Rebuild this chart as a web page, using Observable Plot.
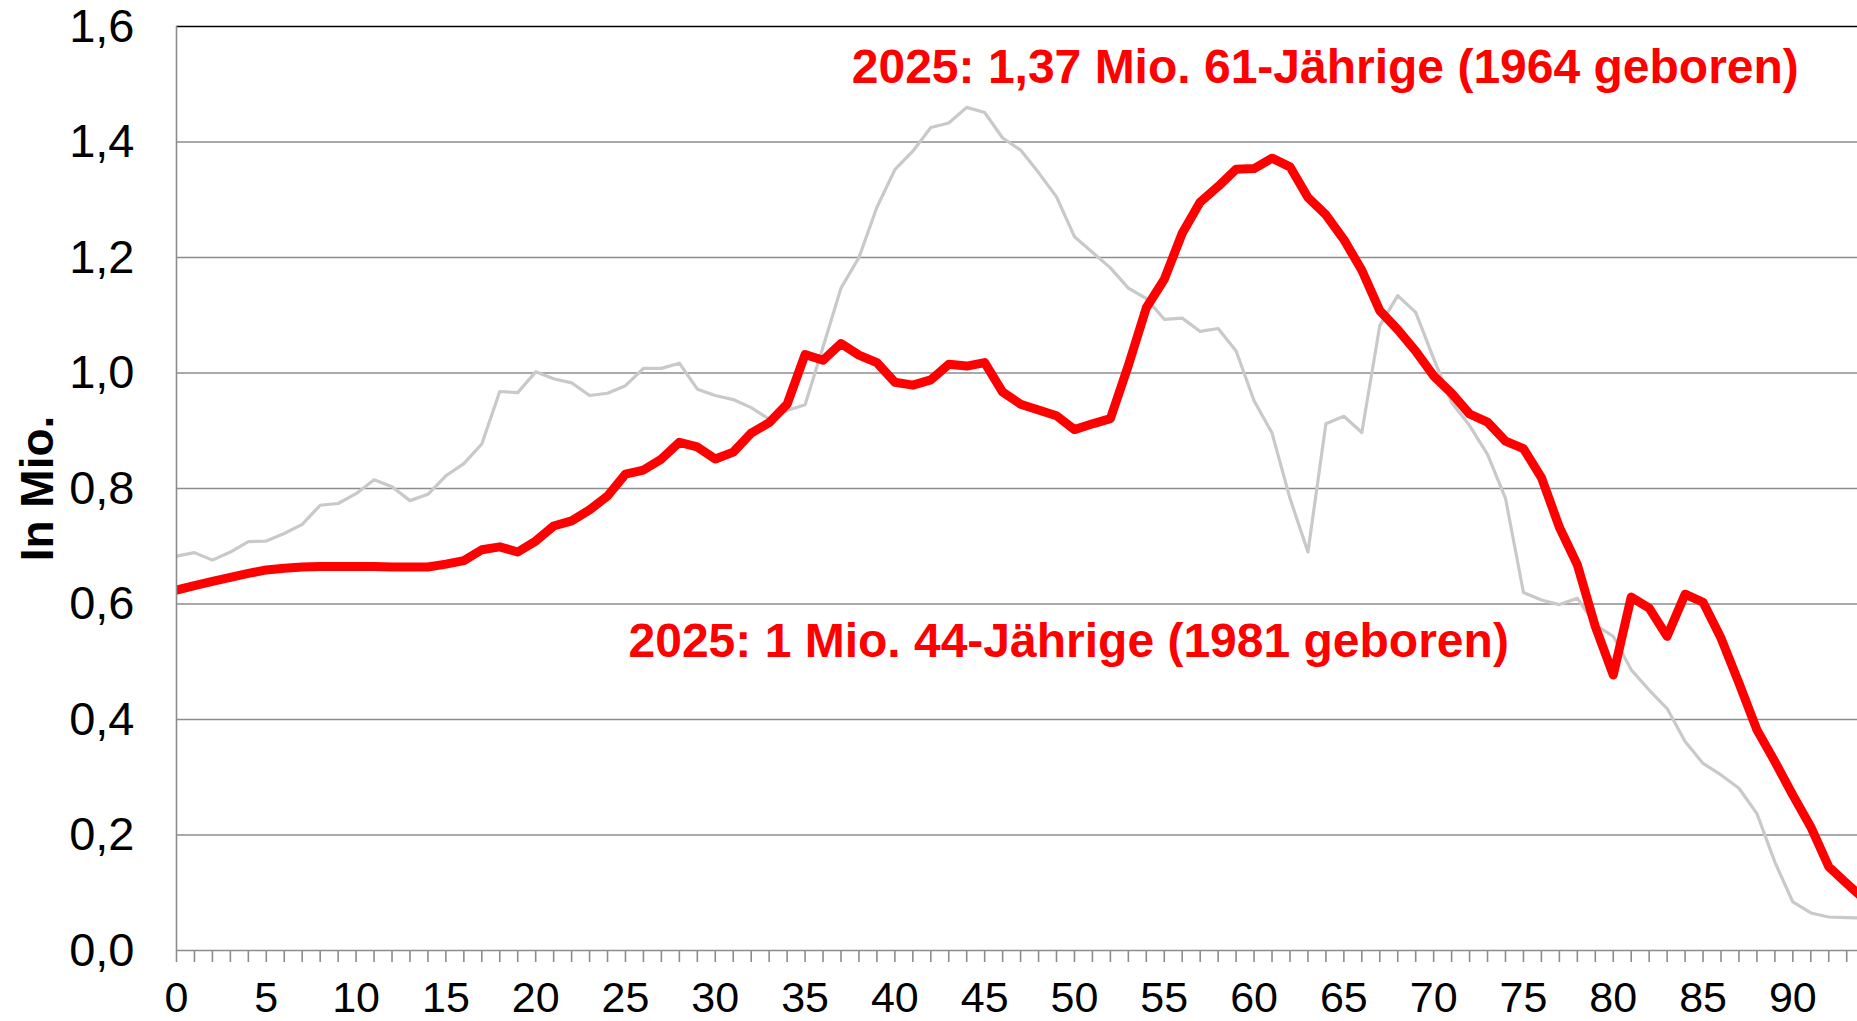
<!DOCTYPE html>
<html>
<head>
<meta charset="utf-8">
<script src="https://cdn.jsdelivr.net/npm/d3@7"></script>
<script src="https://cdn.jsdelivr.net/npm/@observablehq/plot@0.6"></script>
<style>
  html, body { margin: 0; padding: 0; background: #fff; overflow: hidden; }
  #chart svg { display: block; }
</style>
</head>
<body>
<div id="chart"></div>
<script>
// Age (years)
const ages = [
  0, 1, 2, 3, 4, 5, 6, 7, 8, 9,
  10, 11, 12, 13, 14, 15, 16, 17, 18, 19,
  20, 21, 22, 23, 24, 25, 26, 27, 28, 29,
  30, 31, 32, 33, 34, 35, 36, 37, 38, 39,
  40, 41, 42, 43, 44, 45, 46, 47, 48, 49,
  50, 51, 52, 53, 54, 55, 56, 57, 58, 59,
  60, 61, 62, 63, 64, 65, 66, 67, 68, 69,
  70, 71, 72, 73, 74, 75, 76, 77, 78, 79,
  80, 81, 82, 83, 84, 85, 86, 87, 88, 89,
  90, 91, 92, 93, 94
];

// Population 2025 in millions (red)
const population2025 = [
  0.624, 0.632, 0.639, 0.646, 0.653, 0.659, 0.662, 0.664, 0.665, 0.665,
  0.665, 0.665, 0.664, 0.664, 0.664, 0.669, 0.675, 0.694, 0.699, 0.690,
  0.709, 0.735, 0.744, 0.763, 0.787, 0.825, 0.832, 0.851, 0.880, 0.872,
  0.851, 0.863, 0.896, 0.914, 0.946, 1.032, 1.022, 1.051, 1.031, 1.018,
  0.984, 0.979, 0.988, 1.015, 1.012, 1.018, 0.967, 0.946, 0.936, 0.926,
  0.902, 0.912, 0.921, 1.013, 1.113, 1.162, 1.242, 1.296, 1.323, 1.353,
  1.354, 1.372, 1.357, 1.304, 1.274, 1.231, 1.178, 1.108, 1.075, 1.038,
  0.995, 0.965, 0.929, 0.915, 0.882, 0.869, 0.819, 0.733, 0.668, 0.561,
  0.477, 0.612, 0.593, 0.544, 0.617, 0.603, 0.541, 0.463, 0.382, 0.327,
  0.269, 0.214, 0.145, 0.116, 0.088
];

// Comparison population in millions (grey)
const populationComparison = [
  0.683, 0.689, 0.676, 0.690, 0.708, 0.709, 0.722, 0.738, 0.771, 0.774,
  0.791, 0.815, 0.803, 0.779, 0.790, 0.822, 0.843, 0.877, 0.968, 0.966,
  1.002, 0.990, 0.983, 0.961, 0.965, 0.978, 1.008, 1.008, 1.017, 0.972,
  0.961, 0.954, 0.940, 0.920, 0.935, 0.945, 1.045, 1.147, 1.200, 1.287,
  1.352, 1.384, 1.425, 1.433, 1.460, 1.451, 1.407, 1.386, 1.347, 1.305,
  1.236, 1.209, 1.182, 1.147, 1.129, 1.093, 1.095, 1.072, 1.077, 1.038,
  0.952, 0.896, 0.783, 0.690, 0.912, 0.925, 0.897, 1.082, 1.134, 1.105,
  1.025, 0.949, 0.909, 0.859, 0.783, 0.620, 0.607, 0.599, 0.610, 0.564,
  0.544, 0.486, 0.451, 0.419, 0.362, 0.324, 0.304, 0.281, 0.237, 0.153,
  0.084, 0.065, 0.058, 0.057, 0.056
];

const yTicks = [0, 0.2, 0.4, 0.6, 0.8, 1.0, 1.2, 1.4, 1.6];
const xLabelTicks = [0, 5, 10, 15, 20, 25, 30, 35, 40, 45, 50, 55, 60, 65, 70, 75, 80, 85, 90];

const annotationTexts = [
  "2025: 1,37 Mio. 61-Jährige (1964 geboren)",
  "2025: 1 Mio. 44-Jährige (1981 geboren)"
];
const annotationAges = [37.6, 25.17];
const annotationValues = [1.503, 0.508];

const yTitle = "In Mio.";

// ---- build tables ----
const redData = ages.map((a, i) => ({age: a, value: population2025[i]}));
const greyData = ages.map((a, i) => ({age: a, value: populationComparison[i]}));
const annotations = annotationTexts.map((t, i) => ({text: t, age: annotationAges[i], value: annotationValues[i]}));

const X_MAX = 93.6;
const gridColor = "#8c8c8c";

const chart = Plot.plot({
  width: 1857,
  height: 1021,
  marginLeft: 176,
  marginRight: 0,
  marginTop: 26,
  marginBottom: 71,
  style: {fontFamily: "'Liberation Sans', Arial, Helvetica, sans-serif", background: "#fff", color: "#000"},
  x: {domain: [0, X_MAX], label: null},
  y: {domain: [0, 1.6], label: null},
  marks: [
    Plot.ruleY(yTicks.filter(d => d > 0 && d < 1.6), {stroke: gridColor, strokeWidth: 1.6}),
    Plot.ruleY([1.6], {stroke: "#000", strokeWidth: 1.6}),
    Plot.lineY(greyData, {x: "age", y: "value", stroke: "#c9c9c9", strokeWidth: 3.2, strokeLinejoin: "round", clip: true}),
    Plot.lineY(redData, {x: "age", y: "value", stroke: "#ff0000", strokeWidth: 9, strokeLinejoin: "round", clip: true}),
    Plot.ruleX([0], {stroke: gridColor, strokeWidth: 1.6}),
    Plot.ruleY([0], {stroke: gridColor, strokeWidth: 1.6}),
    Plot.axisX(ages.filter(a => a <= X_MAX), {tickSize: 12, tickFormat: () => "", stroke: gridColor, strokeWidth: 1.6, label: null}),
    Plot.axisX(xLabelTicks, {tickSize: 0, tickPadding: 31, fontSize: 43, fill: "#000", tickFormat: d => String(d), label: null}),
    Plot.axisY(yTicks, {tickSize: 0, tickPadding: 42, fontSize: 47, fill: "#000", tickFormat: d => d.toFixed(1).replace(".", ","), label: null}),
    Plot.text(annotations, {x: "age", y: "value", text: "text", textAnchor: "start", lineAnchor: "bottom", fill: "#ff0000", fontSize: 48, fontWeight: "bold"}),
    Plot.text([yTitle], {frameAnchor: "left", text: d => d, rotate: -90, dx: -124, lineAnchor: "bottom", textAnchor: "middle", fontSize: 46, fontWeight: "bold", fill: "#000"})
  ]
});

document.getElementById("chart").appendChild(chart);
</script>
</body>
</html>
